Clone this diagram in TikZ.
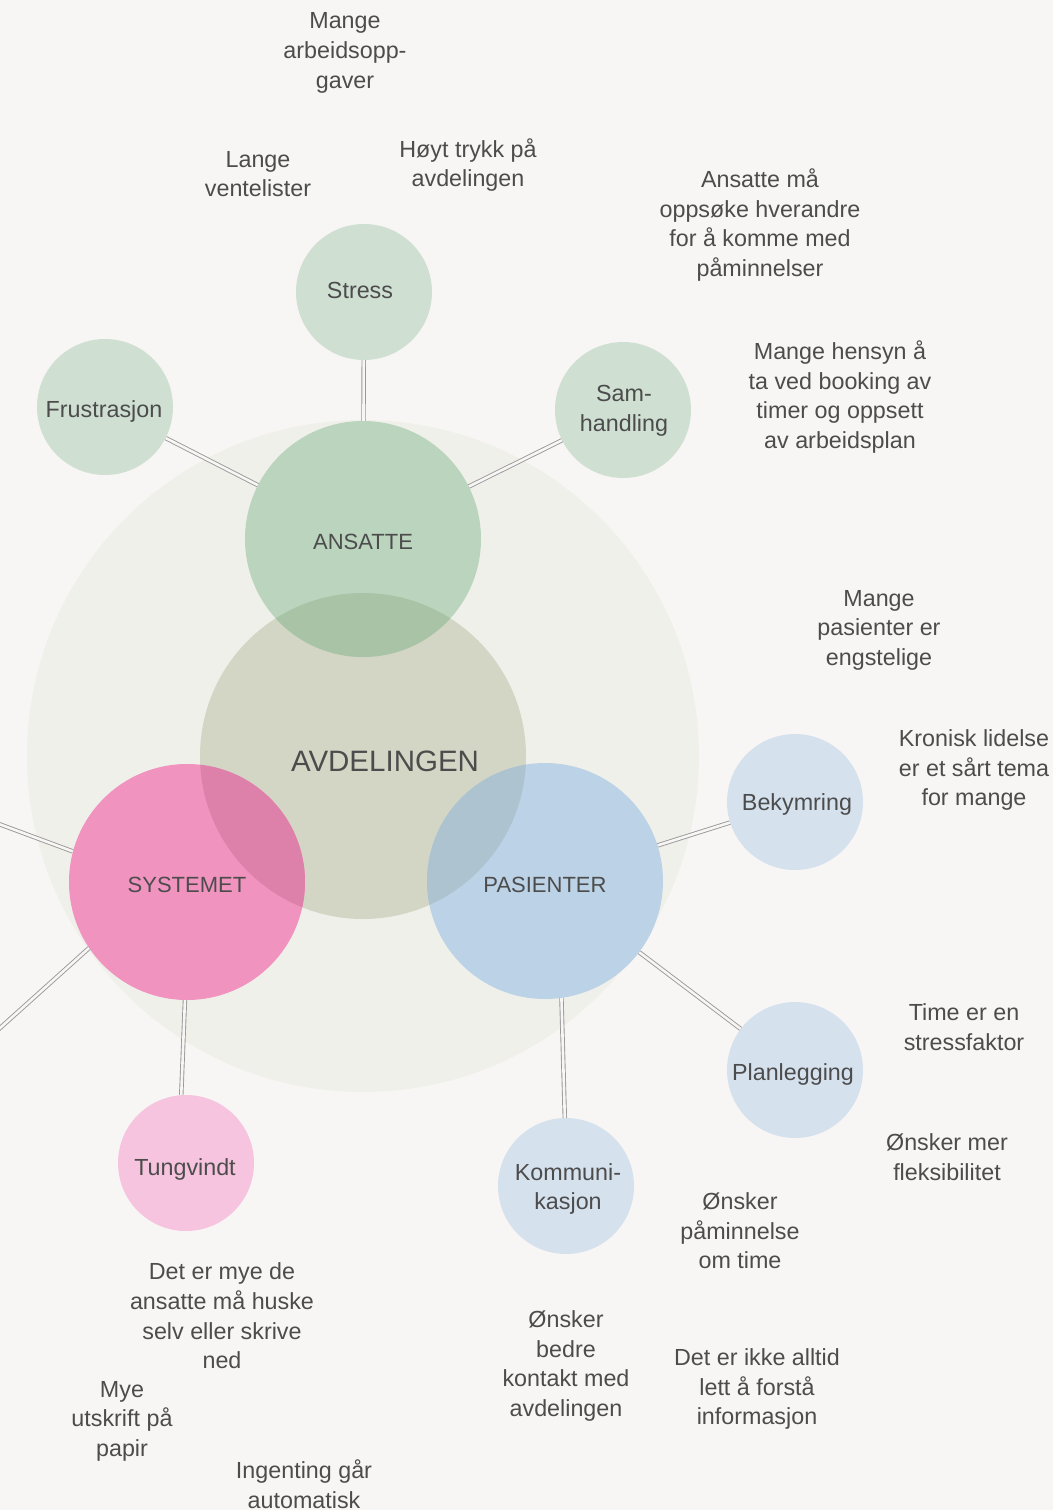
\documentclass[tikz,border=0pt]{standalone}
\usepackage{fontspec}
\setmainfont{Liberation Sans}
\definecolor{bg}{HTML}{F7F6F4}
\definecolor{bigc}{HTML}{F0F0EB}
\definecolor{avd}{HTML}{D4D6C5}
\definecolor{ans}{HTML}{BAD4BD}
\definecolor{ansov}{HTML}{A8C3A6}
\definecolor{sys}{HTML}{F193BF}
\definecolor{sysov}{HTML}{DD81AA}
\definecolor{pas}{HTML}{BCD2E6}
\definecolor{pasov}{HTML}{ADC3CF}
\definecolor{smgreen}{HTML}{CFDFD2}
\definecolor{smpink}{HTML}{F6C4DE}
\definecolor{smblue}{HTML}{D6E1EE}
\definecolor{txt}{HTML}{4C4C4C}
\definecolor{lin}{HTML}{999999}
\tikzset{
  bigring/.style={circle,minimum size=236pt,inner sep=0pt},
  smallring/.style={circle,minimum size=136pt,inner sep=0pt},
  caplabel/.style={text=txt,inner sep=0pt,font=\fontsize{22}{26}\selectfont},
  note/.style={text=txt,align=center,inner sep=0pt,font=\fontsize{23.3}{29.6}\selectfont},
  link/.style={draw=lin,line width=0.9pt,double=bg,double distance=2.6pt}
}
\begin{document}
\begin{tikzpicture}[x=1pt,y=-1pt]
\useasboundingbox (0,0) rectangle (1053,1510);
\fill[bg] (0,0) rectangle (1053,1510);
% big shapes
\fill[bigc] (363,756) circle[radius=336pt];
\fill[avd] (363,756) circle[radius=163pt];
\fill[ans] (363,539) circle[radius=118pt];
\fill[sys] (187,882) circle[radius=118pt];
\fill[pas] (545,881) circle[radius=118pt];
\begin{scope}
  \clip (363,756) circle[radius=163pt];
  \fill[ansov] (363,539) circle[radius=118pt];
  \fill[sysov] (187,882) circle[radius=118pt];
  \fill[pasov] (545,881) circle[radius=118pt];
\end{scope}
% small circles
\fill[smgreen] (364,292) circle[radius=68pt];
\fill[smgreen] (105,407) circle[radius=68pt];
\fill[smgreen] (623,410) circle[radius=68pt];
\fill[smblue] (795,802) circle[radius=68pt];
\fill[smblue] (795,1070) circle[radius=68pt];
\fill[smblue] (566,1186) circle[radius=68pt];
\fill[smpink] (186,1163) circle[radius=68pt];
% labelled nodes
\node[circle,minimum size=326pt,inner sep=0pt] (AVD) at (363,756) {};
\node[text=txt,font=\fontsize{29.5}{34}\selectfont,inner sep=0pt] (AVDt) at (385,761) {AVDELINGEN};
\node[bigring] (ANS) at (363,539) {};
\node[caplabel] (ANSt) at (363,542) {ANSATTE};
\node[bigring] (SYS) at (187,882) {};
\node[caplabel] (SYSt) at (187,885) {SYSTEMET};
\node[bigring] (PAS) at (545,881) {};
\node[caplabel] (PASt) at (545,885) {PASIENTER};
\node[smallring] (STR) at (364,292) {};
\node[note] (STRt) at (360,290) {Stress};
\node[smallring] (FRU) at (105,407) {};
\node[note] (FRUt) at (104,411) {Frustrasjon};
\node[smallring] (SAM) at (623,410) {};
\node[note] (SAMt) at (624,411) {Sam-\\handling};
\node[smallring] (BEK) at (795,802) {};
\node[note] (BEKt) at (797,804) {Bekymring};
\node[smallring] (PLA) at (795,1070) {};
\node[note] (PLAt) at (793,1074) {Planlegging};
\node[smallring] (KOM) at (566,1186) {};
\node[note] (KOMt) at (568,1189) {Kommuni-\\kasjon};
\node[smallring] (TUN) at (186,1163) {};
\node[note] (TUNt) at (185,1169) {Tungvindt};
% free ends
\coordinate (L1) at (-20,817);
\coordinate (L2) at (-20,1046);
% connectors
\draw[link] (STR) -- (ANS);
\draw[link] (FRU) -- (ANS);
\draw[link] (SAM) -- (ANS);
\draw[link] (BEK) -- (PAS);
\draw[link] (PLA) -- (PAS);
\draw[link] (PAS.-82) -- (KOM.91);
\draw[link] (SYS.-91) -- (TUN.94);
\draw[link] (SYS.165) -- (L1);
\draw[link] (SYS.214) -- (L2);
% notes
\node[note] (n1) at (345,53) {Mange\\arbeidsopp-\\gaver};
\node[note] (n2) at (258,174) {Lange\\ventelister};
\node[note] (n3) at (468,165) {Høyt trykk på\\avdelingen};
\node[note] (n4) at (760,225) {Ansatte må\\oppsøke hverandre\\for å komme med\\påminnelser};
\node[note] (n5) at (840,397) {Mange hensyn å\\ta ved booking av\\timer og oppsett\\av arbeidsplan};
\node[note] (n6) at (879,630) {Mange\\pasienter er\\engstelige};
\node[note] (n7) at (974,770) {Kronisk lidelse\\er et sårt tema\\for mange};
\node[note] (n8) at (964,1027) {Time er en\\stressfaktor};
\node[note] (n9) at (947,1157) {Ønsker mer\\fleksibilitet};
\node[note] (n10) at (740,1231) {Ønsker\\påminnelse\\om time};
\node[note] (n11) at (757,1389) {Det er ikke alltid\\lett å forstå\\informasjon};
\node[note] (n12) at (566,1366) {Ønsker\\bedre\\kontakt med\\avdelingen};
\node[note] (n13) at (222,1316) {Det er mye de\\ansatte må huske\\selv eller skrive\\ned};
\node[note] (n14) at (122,1421) {Mye\\utskrift på\\papir};
\node[note] (n15) at (304,1484) {Ingenting går\\automatisk};
\end{tikzpicture}
\end{document}
